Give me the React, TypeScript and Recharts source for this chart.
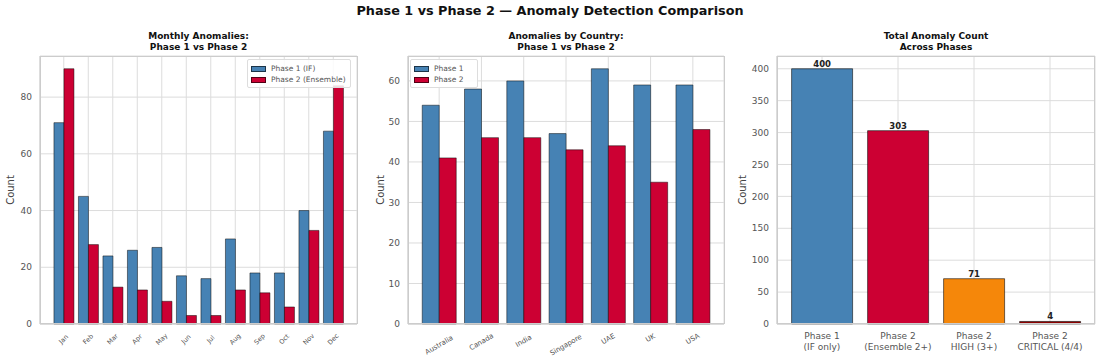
import { BarChart, Bar, XAxis, YAxis, CartesianGrid, Legend, LabelList, Cell } from "recharts";

// data
const months = ["Jan", "Feb", "Mar", "Apr", "May", "Jun", "Jul", "Aug", "Sep", "Oct", "Nov", "Dec"];
const monthPhase1 = [71, 45, 24, 26, 27, 17, 16, 30, 18, 18, 40, 68];
const monthPhase2 = [90, 28, 13, 12, 8, 3, 3, 12, 11, 6, 33, 84];

const countries = ["Australia", "Canada", "India", "Singapore", "UAE", "UK", "USA"];
const countryPhase1 = [54, 58, 60, 47, 63, 59, 59];
const countryPhase2 = [41, 46, 46, 43, 44, 35, 48];

const totalLabels = ["Phase 1\n(IF only)", "Phase 2\n(Ensemble 2+)", "Phase 2\nHIGH (3+)", "Phase 2\nCRITICAL (4/4)"];
const totalCounts = [400, 303, 71, 4];

const monthTicks = [0, 20, 40, 60, 80];
const countryTicks = [0, 10, 20, 30, 40, 50, 60];
const totalTicks = [0, 50, 100, 150, 200, 250, 300, 350, 400];

const BLUE = "#4682B4";
const RED = "#CC0033";
const totalColors = [BLUE, RED, "#F5870A", "#8B0000"];

const FONT = "DejaVu Sans, sans-serif";
const GRID = "#dcdcdc";
const SPINE = "#cccccc";
const TICK = "#555";

const monthData = months.map((m, i) => ({ name: m, p1: monthPhase1[i], p2: monthPhase2[i] }));
const countryData = countries.map((c, i) => ({ name: c, p1: countryPhase1[i], p2: countryPhase2[i] }));
const totalData = totalLabels.map((l, i) => ({ name: l, count: totalCounts[i] }));

function RotatedTick(props: any) {
  const { x, y, payload, angle, fontSize } = props;
  const text = String(payload.value);
  const len = text.length * fontSize * 0.58;
  const rad = (angle * Math.PI) / 180;
  const bh = len * Math.sin(rad) + fontSize * Math.cos(rad);
  return (
    <g transform={`translate(${x},${y + 9 + bh / 2})`}>
      <text
        transform={`rotate(-${angle})`}
        textAnchor="middle"
        dominantBaseline="central"
        fontSize={fontSize}
        fill={TICK}
        fontFamily={FONT}
      >
        {text}
      </text>
    </g>
  );
}

function TwoLineTick(props: any) {
  const { x, y, payload } = props;
  const lines = String(payload.value).split("\n");
  return (
    <text textAnchor="middle" fontSize={9} fill={TICK} fontFamily={FONT}>
      {lines.map((l, i) => (
        <tspan key={i} x={x} y={y + 15 + i * 11}>
          {l}
        </tspan>
      ))}
    </text>
  );
}

function LegendBox({ items }: { items: { label: string; color: string }[] }) {
  return (
    <div
      style={{
        border: "1px solid #dddddd",
        borderRadius: 2,
        background: "rgba(255,255,255,0.85)",
        padding: "3px 4px 2px 3px",
        fontFamily: FONT,
        fontSize: 7.5,
        color: TICK,
      }}
    >
      {items.map((it) => (
        <div key={it.label} style={{ display: "flex", alignItems: "center", height: 11 }}>
          <span
            style={{
              display: "inline-block",
              width: 15,
              height: 6,
              background: it.color,
              border: "0.8px solid rgba(0,0,0,0.6)",
              marginRight: 5,
              boxSizing: "border-box",
            }}
          />
          {it.label}
        </div>
      ))}
    </div>
  );
}

const titleStyle: React.CSSProperties = {
  position: "absolute",
  top: 31,
  textAlign: "center",
  fontFamily: FONT,
  fontWeight: "bold",
  fontSize: 9,
  lineHeight: "11px",
  color: "#111",
};

const ylabelStyle: React.CSSProperties = {
  position: "absolute",
  top: 190,
  fontFamily: FONT,
  fontSize: 10,
  color: "#444",
  transform: "translate(-50%,-50%) rotate(-90deg)",
};

function Frame({ left, width }: { left: number; width: number }) {
  return (
    <div
      style={{
        position: "absolute",
        left,
        top: 56,
        width,
        height: 268,
        border: `1px solid ${SPINE}`,
        boxSizing: "border-box",
        pointerEvents: "none",
      }}
    />
  );
}

export default function App() {
  return (
    <div style={{ position: "absolute", left: 0, top: 0, width: 1100, height: 364, background: "#fff", fontFamily: FONT }}>
      <div
        style={{
          position: "absolute",
          top: 3,
          left: 0,
          width: 1100,
          textAlign: "center",
          fontWeight: "bold",
          fontSize: 12.8,
          color: "#111",
        }}
      >
        Phase 1 vs Phase 2 — Anomaly Detection Comparison
      </div>

      {/* panel 1 */}
      <div style={{ ...titleStyle, left: 40, width: 317 }}>
        Monthly Anomalies:
        <br />
        Phase 1 vs Phase 2
      </div>
      <div style={{ ...ylabelStyle, left: 10 }}>Count</div>
      <div style={{ position: "absolute", left: 0, top: 0 }}>
        <BarChart
          width={370}
          height={364}
          data={monthData}
          margin={{ top: 56, right: 13, left: 10, bottom: 0 }}
          barCategoryGap="10%"
          barGap={0}
        >
          <CartesianGrid stroke={GRID} />
          <XAxis
            dataKey="name"
            interval={0}
            height={40}
            padding={{ left: 11.5, right: 11.5 }}
            tickLine={false}
            tickSize={0}
            tickMargin={0}
            axisLine={{ stroke: SPINE }}
            tick={<RotatedTick angle={45} fontSize={6.5} />}
          />
          <YAxis
            width={30}
            domain={[0, 94.5]}
            ticks={monthTicks}
            tickLine={false}
            tickSize={0}
            tickMargin={8}
            axisLine={{ stroke: SPINE }}
            tick={{ fontSize: 9, fill: TICK, fontFamily: FONT }}
          />
          <Legend
            layout="vertical"
            align="center"
            verticalAlign="middle"
            wrapperStyle={{ left: 247, top: 59, width: 104 }}
            content={() => (
              <LegendBox
                items={[
                  { label: "Phase 1 (IF)", color: BLUE },
                  { label: "Phase 2 (Ensemble)", color: RED },
                ]}
              />
            )}
          />
          <Bar dataKey="p1" fill={BLUE} stroke="#000" strokeOpacity={0.6} strokeWidth={0.8} isAnimationActive={false} />
          <Bar dataKey="p2" fill={RED} stroke="#000" strokeOpacity={0.6} strokeWidth={0.8} isAnimationActive={false} />
        </BarChart>
      </div>
      <Frame left={40} width={318} />

      {/* panel 2 */}
      <div style={{ ...titleStyle, left: 408, width: 316 }}>
        Anomalies by Country:
        <br />
        Phase 1 vs Phase 2
      </div>
      <div style={{ ...ylabelStyle, left: 380 }}>Count</div>
      <div style={{ position: "absolute", left: 370, top: 0 }}>
        <BarChart
          width={360}
          height={364}
          data={countryData}
          margin={{ top: 56, right: 6, left: 8, bottom: 0 }}
          barCategoryGap="10%"
          barGap={0}
        >
          <CartesianGrid stroke={GRID} />
          <XAxis
            dataKey="name"
            interval={0}
            height={40}
            padding={{ left: 10, right: 10 }}
            tickLine={false}
            tickSize={0}
            tickMargin={0}
            axisLine={{ stroke: SPINE }}
            tick={<RotatedTick angle={30} fontSize={7} />}
          />
          <YAxis
            width={30}
            domain={[0, 66.15]}
            ticks={countryTicks}
            tickLine={false}
            tickSize={0}
            tickMargin={8}
            axisLine={{ stroke: SPINE }}
            tick={{ fontSize: 9, fill: TICK, fontFamily: FONT }}
          />
          <Legend
            layout="vertical"
            align="center"
            verticalAlign="middle"
            wrapperStyle={{ left: 40, top: 59, width: 68 }}
            content={() => (
              <LegendBox
                items={[
                  { label: "Phase 1", color: BLUE },
                  { label: "Phase 2", color: RED },
                ]}
              />
            )}
          />
          <Bar dataKey="p1" fill={BLUE} stroke="#000" strokeOpacity={0.6} strokeWidth={0.8} isAnimationActive={false} />
          <Bar dataKey="p2" fill={RED} stroke="#000" strokeOpacity={0.6} strokeWidth={0.8} isAnimationActive={false} />
        </BarChart>
      </div>
      <Frame left={408} width={317} />

      {/* panel 3 */}
      <div style={{ ...titleStyle, left: 777, width: 318 }}>
        Total Anomaly Count
        <br />
        Across Phases
      </div>
      <div style={{ ...ylabelStyle, left: 742 }}>Count</div>
      <div style={{ position: "absolute", left: 730, top: 0 }}>
        <BarChart
          width={370}
          height={364}
          data={totalData}
          margin={{ top: 56, right: 5, left: 17, bottom: 0 }}
          barCategoryGap="10%"
        >
          <CartesianGrid stroke={GRID} />
          <XAxis
            dataKey="name"
            interval={0}
            height={40}
            padding={{ left: 7, right: 7 }}
            tickLine={false}
            tickSize={0}
            tickMargin={0}
            axisLine={{ stroke: SPINE }}
            tick={<TwoLineTick />}
          />
          <YAxis
            width={30}
            domain={[0, 420]}
            ticks={totalTicks}
            tickLine={false}
            tickSize={0}
            tickMargin={8}
            axisLine={{ stroke: SPINE }}
            tick={{ fontSize: 9, fill: TICK, fontFamily: FONT }}
          />
          <Bar dataKey="count" stroke="#000" strokeOpacity={0.7} strokeWidth={0.8} isAnimationActive={false}>
            {totalData.map((d, i) => (
              <Cell key={d.name} fill={totalColors[i]} />
            ))}
            <LabelList
              dataKey="count"
              position="top"
              offset={2}
              style={{ fontSize: 8.5, fontWeight: "bold", fill: "#222", fontFamily: FONT }}
            />
          </Bar>
        </BarChart>
      </div>
      <Frame left={777} width={318} />
    </div>
  );
}
